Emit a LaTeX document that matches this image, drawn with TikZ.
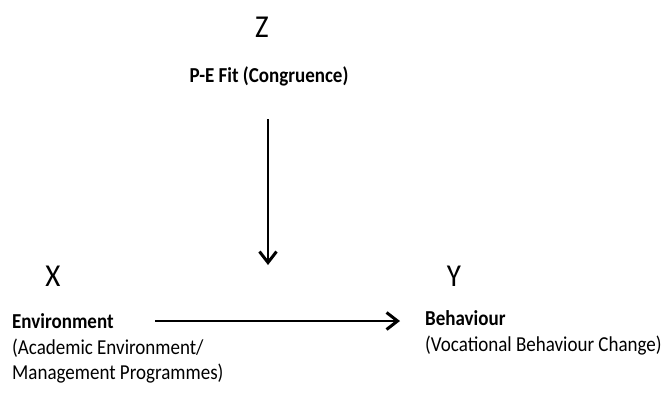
\documentclass[tikz,border=0pt]{standalone}
\usepackage{fontspec}
\setmainfont{Carlito}
\usetikzlibrary{arrows.meta}
\newcommand{\vstretch}[1]{\scalebox{1}[1.12]{#1}}
\newcommand{\lstretch}[1]{\scalebox{1}[1.1]{#1}}
\begin{document}
\begin{tikzpicture}[x=1pt,y=-1pt,
  var/.style={font=\fontsize{29}{33}\selectfont, inner sep=0pt, anchor=base},
  ttl/.style={font=\fontsize{19}{25}\selectfont\bfseries, inner sep=0pt, anchor=base west},
  sub/.style={font=\fontsize{19}{25}\selectfont, inner sep=0pt, anchor=base west},
  arr/.style={line width=2.6pt, -{Straight Barb[length=11pt,width=17pt,line width=3pt]}}]
\useasboundingbox[fill=white] (0,0) rectangle (661,394);
% variable letters
\node[var] (z) at (262,37) {\lstretch{Z}};
\node[var] (x) at (53,286) {\lstretch{X}};
\node[var] (y) at (454,286) {\lstretch{Y}};
% labels
\node[ttl, anchor=base] (pe) at (269,82) {\vstretch{P-E Fit (Congruence)}};
\node[ttl] (env) at (12,328) {\vstretch{Environment}};
\node[sub] (env1) at (12,354) {\vstretch{(Academic Environment/}};
\node[sub] (env2) at (12,379) {\vstretch{Management Programmes)}};
\node[ttl] (beh) at (425,325) {\vstretch{Behaviour}};
\node[sub] (beh1) at (425,351) {\vstretch{(Vocational Behaviour Change)}};
% arrow end points
\coordinate (hs) at (155,321);
\coordinate (he) at (400,321);
\coordinate (vs) at (268,119);
\coordinate (ve) at (268,265);
\draw[arr] (hs) -- (he);
\draw[arr] (vs) -- (ve);
\end{tikzpicture}
\end{document}
